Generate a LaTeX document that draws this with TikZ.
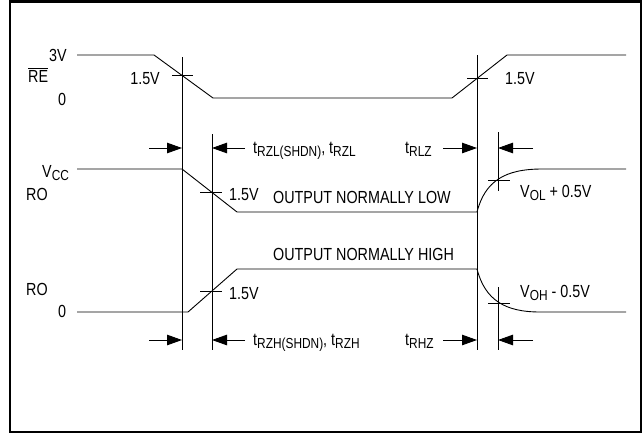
\documentclass[tikz,border=0pt]{standalone}
\usepackage{fontspec}
\setmainfont{Liberation Sans}[FakeStretch=0.82]
\usetikzlibrary{arrows.meta}
\newcommand\lo[1]{\raisebox{-3.8pt}{\fontsize{14.5}{15}\selectfont #1}}
\begin{document}
\begin{tikzpicture}[x=1pt,y=-1pt,
  sig/.style={line width=0.9pt},
  guide/.style={line width=0.9pt},
  tickmark/.style={line width=0.9pt},
  dimarrow/.style={line width=0.9pt,-{Triangle[length=15pt,width=10.5pt]}},
  lbl/.style={inner sep=0pt,font=\fontsize{17.5}{19}\selectfont},
  frame/.style={line width=2.5pt}]
\useasboundingbox (0,0) rectangle (644,434);
\draw[frame] (10,1.5) rectangle (641,432);

% RE signal
\coordinate (reA) at (77,55);
\coordinate (reB) at (154,55);
\coordinate (reC) at (213,98);
\coordinate (reD) at (452,98);
\coordinate (reE) at (507,55);
\coordinate (reF) at (626,55);
\draw[sig] (reA) -- (reB) -- (reC) -- (reD) -- (reE) -- (reF);

% RO normally low
\coordinate (loA) at (77,169);
\coordinate (loB) at (182,169);
\coordinate (loC) at (237,212);
\coordinate (loD) at (477,212);
\coordinate (loE) at (542,169);
\coordinate (loF) at (626,169);
\draw[sig] (loA) -- (loB) -- (loC) -- (loD) .. controls (485,181) and (505,169) .. (loE) -- (loF);

% RO normally high
\coordinate (hiA) at (77,312);
\coordinate (hiB) at (188,312);
\coordinate (hiC) at (237,269);
\coordinate (hiD) at (477,269);
\coordinate (hiE) at (540,312);
\coordinate (hiF) at (626,312);
\draw[sig] (hiA) -- (hiB) -- (hiC) -- (hiD) .. controls (485,300) and (505,312) .. (hiE) -- (hiF);

% vertical guides
\coordinate (v1t) at (182,57);   \coordinate (v1b) at (182,350);
\coordinate (v2t) at (212,134);  \coordinate (v2b) at (212,350);
\coordinate (v3t) at (477,55);   \coordinate (v3b) at (477,350);
\coordinate (v4t) at (498,132);  \coordinate (v4m) at (498,191);
\coordinate (v4u) at (498,287);  \coordinate (v4b) at (498,350);
\draw[guide] (v1t) -- (v1b);
\draw[guide] (v2t) -- (v2b);
\draw[guide] (v3t) -- (v3b);
\draw[guide] (v4t) -- (v4m);
\draw[guide] (v4u) -- (v4b);

% tick marks
\draw[tickmark] (172,75.5) -- (193,75.5);
\draw[tickmark] (467,78.5) -- (488,78.5);
\draw[tickmark] (200,192.5) -- (222,192.5);
\draw[tickmark] (200,291) -- (222,291);
\draw[tickmark] (488,180) -- (510,180);
\draw[tickmark] (488,303) -- (510,303);

% dimension arrows
\coordinate (a1) at (149,148); \coordinate (a1t) at (182,148);
\coordinate (a2) at (245,148); \coordinate (a2t) at (212,148);
\coordinate (a3) at (443,148); \coordinate (a3t) at (477,148);
\coordinate (a4) at (533,148); \coordinate (a4t) at (498,148);
\coordinate (b1) at (149,340); \coordinate (b1t) at (182,340);
\coordinate (b2) at (245,340); \coordinate (b2t) at (212,340);
\coordinate (b3) at (443,340); \coordinate (b3t) at (477,340);
\coordinate (b4) at (533,340); \coordinate (b4t) at (498,340);
\draw[dimarrow] (a1) -- (a1t);
\draw[dimarrow] (a2) -- (a2t);
\draw[dimarrow] (a3) -- (a3t);
\draw[dimarrow] (a4) -- (a4t);
\draw[dimarrow] (b1) -- (b1t);
\draw[dimarrow] (b2) -- (b2t);
\draw[dimarrow] (b3) -- (b3t);
\draw[dimarrow] (b4) -- (b4t);

% labels
\node[lbl,anchor=base west] (t3v) at (49,61) {3V};
\node[lbl,anchor=base west] (tre) at (28,82) {$\overline{\mbox{RE}}$};
\node[lbl,anchor=base west] (tz1) at (58,105) {0};
\node[lbl,anchor=base east] (th1) at (160,84) {1.5V};
\node[lbl,anchor=base west] (th2) at (505,84) {1.5V};
\node[lbl,anchor=base west] (tvcc) at (42,177) {V\lo{CC}};
\node[lbl,anchor=base west] (tro1) at (26,200) {RO};
\node[lbl,anchor=base west] (th3) at (229,200) {1.5V};
\node[lbl,anchor=base west] (tlow) at (273,203) {OUTPUT NORMALLY LOW};
\node[lbl,anchor=base west] (thigh) at (273,260) {OUTPUT NORMALLY HIGH};
\node[lbl,anchor=base west] (tvol) at (520,197) {V\lo{OL} + 0.5V};
\node[lbl,anchor=base west] (tvoh) at (520,297) {V\lo{OH} - 0.5V};
\node[lbl,anchor=base west] (tro2) at (26,295) {RO};
\node[lbl,anchor=base west] (tz2) at (58,317) {0};
\node[lbl,anchor=base west] (th4) at (229,299) {1.5V};
\node[lbl,anchor=base west] (trzl) at (253,153) {t\lo{RZL(SHDN)}, t\lo{RZL}};
\node[lbl,anchor=base west] (trlz) at (405,153) {t\lo{RLZ}};
\node[lbl,anchor=base west] (trzh) at (253,345) {t\lo{RZH(SHDN)}, t\lo{RZH}};
\node[lbl,anchor=base west] (trhz) at (405,345) {t\lo{RHZ}};
\end{tikzpicture}
\end{document}
